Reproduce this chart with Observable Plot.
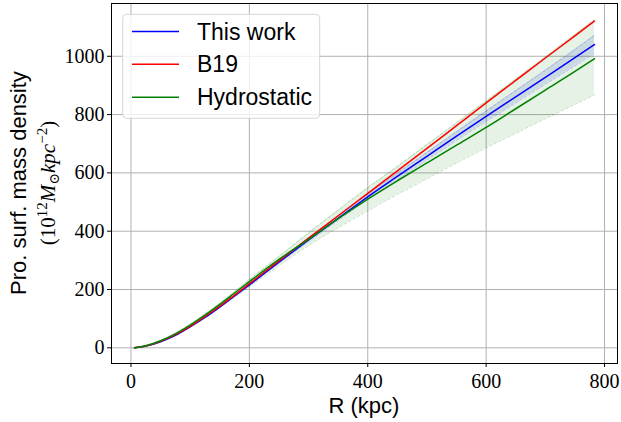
<!DOCTYPE html>
<html>
<head>
<meta charset="utf-8">
<script src="https://cdn.jsdelivr.net/npm/d3@7"></script>
<script src="https://cdn.jsdelivr.net/npm/@observablehq/plot@0.6"></script>
<style>
  html, body { margin: 0; padding: 0; background: white; }
  #chart { width: 621px; height: 422px; }
</style>
</head>
<body>
<div id="chart"></div>
<script>
// Radius (kpc)
const R = [6, 25, 50, 75, 100, 125, 150, 175, 200, 250, 300, 350, 400, 450, 500, 550, 600, 650, 700, 750, 783];
// This work (median and band)
const thisWork   = [0, 6, 21, 43, 72, 104, 140, 178, 216, 294, 370, 444, 518, 588, 657, 726, 794, 861, 928, 995, 1040];
const thisWorkLo = [0, 6, 20, 42, 71, 102, 138, 175, 213, 290, 364, 437, 509, 577, 644, 711, 776, 840, 904, 967, 1010];
const thisWorkHi = [0, 6, 22, 44, 73, 106, 142, 181, 219, 299, 376, 452, 527, 599, 670, 741, 812, 882, 952, 1023, 1072];
// B19
const b19 = [0, 6, 22, 45, 74, 107, 143, 181, 220, 298, 376, 453, 530, 607, 684, 762, 840, 917, 994, 1070, 1121];
// Hydrostatic (median and band)
const hydro   = [0, 7, 24, 48, 78, 112, 149, 188, 227, 303, 372, 443, 510, 573, 634, 695, 756, 820, 884, 948, 992];
const hydroLo = [0, 6, 22, 44, 72, 104, 138, 174, 210, 282, 351, 412, 470, 526, 580, 634, 686, 736, 786, 835, 868];
const hydroHi = [0, 7, 25, 51, 81, 116, 153, 192, 234, 313, 394, 472, 549, 622, 697, 772, 847, 922, 998, 1075, 1125];

const xTicks = [0, 200, 400, 600, 800];
const yTicks = [0, 200, 400, 600, 800, 1000];
const seriesNames = ["This work", "B19", "Hydrostatic"];
const seriesColors = ["#0000ff", "#ff0000", "#008000"];

const data = R.map((r, i) => ({
  R: r, tw: thisWork[i], twLo: thisWorkLo[i], twHi: thisWorkHi[i],
  b19: b19[i], hy: hydro[i], hyLo: hydroLo[i], hyHi: hydroHi[i]
}));

const W = 621, H = 422;
const mL = 111, mR = 4, mT = 3, mB = 59;

const plot = Plot.plot({
  width: W, height: H,
  marginLeft: mL, marginRight: mR, marginTop: mT, marginBottom: mB,
  style: { fontFamily: "'Liberation Serif', 'DejaVu Serif', serif", fontSize: "20px", background: "white", color: "black" },
  x: { domain: [-32.9, 821.9], ticks: xTicks, tickFormat: d => String(d), label: null, tickSize: 4, tickPadding: 6 },
  y: { domain: [-53.8, 1181], ticks: yTicks, tickFormat: d => String(d), label: null, tickSize: 4, tickPadding: 3 },
  marks: [
    Plot.ruleX(xTicks, { stroke: "#b0b0b0", strokeWidth: 1 }),
    Plot.ruleY(yTicks, { stroke: "#b0b0b0", strokeWidth: 1 }),
    Plot.areaY(data, { x: "R", y1: "hyLo", y2: "hyHi", fill: "#008000", fillOpacity: 0.1, curve: "monotone-x" }),
    Plot.line(data, { x: "R", y: "hyLo", stroke: "#008000", strokeOpacity: 0.3, strokeWidth: 0.8, strokeDasharray: "3,2", curve: "monotone-x" }),
    Plot.line(data, { x: "R", y: "hyHi", stroke: "#008000", strokeOpacity: 0.3, strokeWidth: 0.8, strokeDasharray: "3,2", curve: "monotone-x" }),
    Plot.areaY(data, { x: "R", y1: "twLo", y2: "twHi", fill: "#3050c0", fillOpacity: 0.15, curve: "monotone-x" }),
    Plot.line(data, { x: "R", y: "twLo", stroke: "#0000ff", strokeOpacity: 0.25, strokeWidth: 0.8, strokeDasharray: "3,2", curve: "monotone-x" }),
    Plot.line(data, { x: "R", y: "twHi", stroke: "#0000ff", strokeOpacity: 0.25, strokeWidth: 0.8, strokeDasharray: "3,2", curve: "monotone-x" }),
    Plot.line(data, { x: "R", y: "tw", stroke: seriesColors[0], strokeWidth: 1.5, curve: "monotone-x" }),
    Plot.line(data, { x: "R", y: "b19", stroke: seriesColors[1], strokeWidth: 1.5, curve: "monotone-x" }),
    Plot.line(data, { x: "R", y: "hy", stroke: seriesColors[2], strokeWidth: 1.5, curve: "monotone-x" }),
    Plot.frame({ stroke: "black", strokeWidth: 1 })
  ]
});

document.getElementById("chart").appendChild(plot);

const svg = d3.select(plot);
const sans = "'Liberation Sans', Arial, Helvetica, sans-serif";
const serif = "'Liberation Serif', 'DejaVu Serif', serif";
const cy = (mT + (H - mB)) / 2;
const cx = (mL + (W - mR)) / 2;

// X label
svg.append("text")
  .attr("x", cx).attr("y", 413)
  .attr("text-anchor", "middle")
  .style("font-family", sans).style("font-size", "22px").attr("fill", "black")
  .text("R (kpc)");

// Y label line 1
svg.append("text")
  .attr("transform", `translate(26,${cy}) rotate(-90)`)
  .attr("text-anchor", "middle")
  .style("font-family", sans).style("font-size", "22px").attr("fill", "black")
  .text("Pro. surf. mass density");

// Y label line 2 (math)
const t2 = svg.append("text")
  .attr("transform", `translate(55,${cy}) rotate(-90)`)
  .attr("text-anchor", "middle")
  .style("font-family", serif).style("font-size", "21px").attr("fill", "black");
t2.append("tspan").text("(10");
t2.append("tspan").attr("dy", -8).style("font-size", "15px").text("12");
t2.append("tspan").attr("dy", 8).style("font-style", "italic").text("M");
t2.append("tspan").attr("dy", 4).style("font-size", "14px").text("\u2299");
t2.append("tspan").attr("dy", -4).style("font-style", "italic").text("kpc");
t2.append("tspan").attr("dy", -8).style("font-size", "15px").text("\u22122");
t2.append("tspan").attr("dy", 8).text(")");

// Legend
const lg = svg.append("g");
lg.append("rect")
  .attr("x", 122.7).attr("y", 14.3).attr("width", 197).attr("height", 104)
  .attr("rx", 4).attr("fill", "white").attr("fill-opacity", 0.8)
  .attr("stroke", "#d6d6d6").attr("stroke-width", 1);
const rows = [31.5, 64.3, 97.3];
seriesNames.forEach((name, i) => {
  lg.append("line")
    .attr("x1", 132).attr("x2", 179).attr("y1", rows[i]).attr("y2", rows[i])
    .attr("stroke", seriesColors[i]).attr("stroke-width", 1.5);
  lg.append("text")
    .attr("x", 197).attr("y", rows[i] + 8)
    .attr("text-anchor", "start")
    .style("font-family", sans).style("font-size", "23px").attr("fill", "black")
    .text(name);
});
</script>
</body>
</html>
